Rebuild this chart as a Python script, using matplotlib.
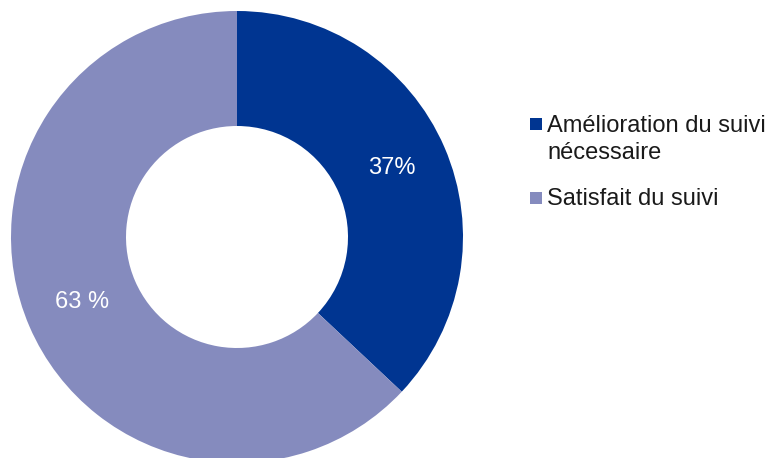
import matplotlib
matplotlib.use("Agg")
import matplotlib.pyplot as plt
import numpy as np

categories = ["Amélioration du suivi\nnécessaire", "Satisfait du suivi"]
values = [37, 63]
value_labels = ["37%", "63 %"]
colors = ["#003591", "#858BBE"]

plt.rcParams["font.family"] = ["Liberation Sans", "DejaVu Sans"]

W, H = 772, 458
fig = plt.figure(figsize=(W / 100, H / 100), dpi=100)
ax = fig.add_axes([0, 0, 1, 1])
ax.set_xlim(0, W)
ax.set_ylim(0, H)
ax.set_aspect("equal")
ax.axis("off")

cx, cy = 237, H - 237
r_out, r_in = 226, 111
wedges, _ = ax.pie(values, colors=colors, startangle=90, counterclock=False,
                   center=(cx, cy), radius=r_out,
                   wedgeprops=dict(width=r_out - r_in, linewidth=0))
ax.set_xlim(0, W)
ax.set_ylim(0, H)

r_mid = (r_out + r_in) / 2
for w, lab in zip(wedges, value_labels):
    ang = np.deg2rad((w.theta1 + w.theta2) / 2)
    ax.text(cx + r_mid * np.cos(ang), cy + r_mid * np.sin(ang) + 2, lab,
            color="white", fontsize=17, ha="center", va="center")

# legend: square marker + text lines, baselines in pixels from top
sq = 12
line_step = 27.5
first_baselines = [131.5, 205]
for base, c, lab in zip(first_baselines, colors, categories):
    ax.add_patch(plt.Rectangle((530, H - base + 1.5), sq - 0.5, sq, color=c, linewidth=0))
    for i, line in enumerate(lab.split("\n")):
        ax.text(547, H - base - i * line_step, line, fontsize=17,
                ha="left", va="baseline", color="#1a1a1a")

fig.savefig("out.png", dpi=100)
